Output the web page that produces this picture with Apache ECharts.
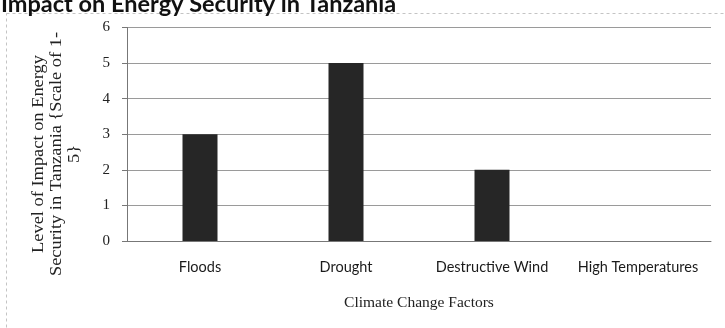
<!DOCTYPE html>
<html>
<head>
<meta charset="utf-8">
<script src="https://cdn.jsdelivr.net/npm/echarts@6/dist/echarts.min.js"></script>
<style>
  html, body { margin: 0; padding: 0; background: #fff; }
  #chart { width: 725px; height: 328px; }
</style>
</head>
<body>
<div id="chart"></div>
<script>
// Climate change factors and their rated impact (scale of 1-5)
const categories = ['Floods', 'Drought', 'Destructive Wind', 'High Temperatures'];
const impactLevels = [3, 5, 2, 0];
const yTicks = [0, 1, 2, 3, 4, 5, 6];

const chart = echarts.init(document.getElementById('chart'));
const serif = '"Liberation Serif", "DejaVu Serif", serif';
const sans = 'Lato, "Open Sans", sans-serif';

chart.setOption({
  animation: false,
  backgroundColor: '#fff',
  graphic: [
    {
      type: 'rect',
      shape: { x: 6.5, y: 13.5, width: 900, height: 400 },
      style: { fill: 'none', stroke: '#c4c4c4', lineWidth: 1, lineDash: [3, 3] },
      silent: true
    },
    {
      type: 'text',
      x: 1,
      y: 16,
      style: {
        text: 'Impact on Energy Security in Tanzania',
        font: 'bold 23.5px ' + sans,
        fill: '#111',
        verticalAlign: 'bottom'
      },
      silent: true
    },
    {
      // vertical axis title, stretched along its baseline
      type: 'text',
      x: 57,
      y: 154,
      rotation: Math.PI / 2,
      scaleX: 1.15,
      style: {
        text: 'Level of Impact on Energy\nSecurity in Tanzania {Scale of 1-\n5}',
        font: '16px ' + serif,
        lineHeight: 18,
        fill: '#222',
        align: 'center',
        verticalAlign: 'middle'
      },
      silent: true
    }
  ],
  grid: { left: 127, top: 27.5, right: 14, bottom: 87 },
  xAxis: {
    type: 'category',
    data: categories,
    name: 'Climate Change Factors',
    nameLocation: 'middle',
    nameGap: 54,
    nameTextStyle: { fontFamily: serif, fontSize: 15.5, color: '#222' },
    axisLine: { show: true, lineStyle: { color: '#777', width: 1 } },
    axisTick: { show: false },
    axisLabel: { fontFamily: sans, fontSize: 14.5, color: '#1a1a1a', margin: 19, interval: 0 }
  },
  yAxis: {
    type: 'value',
    min: yTicks[0],
    max: yTicks[yTicks.length - 1],
    interval: 1,
    axisLine: { show: true, lineStyle: { color: '#777', width: 1 } },
    axisTick: { show: true, length: 5, lineStyle: { color: '#777' } },
    axisLabel: { fontFamily: serif, fontSize: 15, color: '#222', margin: 17 },
    splitLine: { show: true, lineStyle: { color: '#9a9a9a', width: 1 } }
  },
  series: [{
    type: 'bar',
    data: impactLevels,
    barWidth: 35,
    itemStyle: { color: '#262626' }
  }]
});
</script>
</body>
</html>
